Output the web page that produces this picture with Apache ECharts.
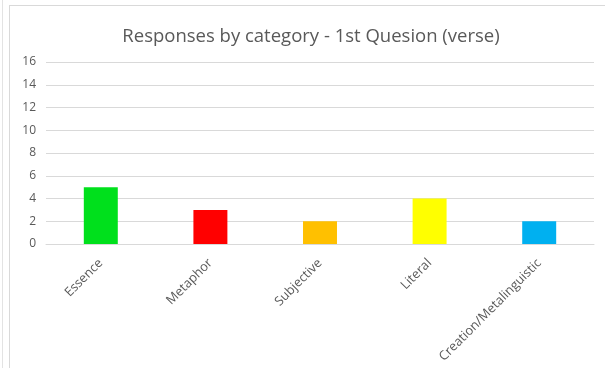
<!DOCTYPE html>
<html><head><meta charset="utf-8">
<script src="https://cdn.jsdelivr.net/npm/echarts@6/dist/echarts.min.js"></script>
<style>
html,body{margin:0;padding:0;background:#fff;}
#outer{position:absolute;left:2px;top:0;width:603px;height:368px;border-left:1px solid #e3e3e3;}
#frame{position:absolute;left:6px;top:5px;width:597px;height:363px;border-left:1px solid #d9d9d9;border-top:1px solid #d9d9d9;}
#main{position:absolute;left:0;top:0;width:605px;height:368px;}
</style></head>
<body>
<div id="outer"><div id="frame"></div></div>
<div id="main"></div>
<script>
const categories = ['Essence','Metaphor','Subjective','Literal','Creation/Metalinguistic'];
const values = [5,3,2,4,2];
const barColors = ['#00e01c','#ff0000','#ffc000','#ffff00','#00b0f0'];
const yTicks = [0,2,4,6,8,10,12,14,16];

const chart = echarts.init(document.getElementById('main'));
chart.setOption({
  backgroundColor:'transparent',
  animation:false,
  title:{text:'Responses by category - 1st Quesion (verse)',left:306,textAlign:'center',top:22,
    textStyle:{fontFamily:'Open Sans',fontWeight:'normal',fontSize:18.5,color:'#595959'}},
  grid:{left:46,right:11,top:62,bottom:124},
  xAxis:{type:'category',data:categories,
    axisLine:{lineStyle:{color:'#d9d9d9'}},axisTick:{show:false},
    axisLabel:{rotate:45,color:'#595959',fontFamily:'Open Sans',fontSize:12.8,margin:17,interval:0}},
  yAxis:{type:'value',min:yTicks[0],max:yTicks[yTicks.length-1],interval:2,
    axisLine:{show:false},axisTick:{show:false},
    splitLine:{lineStyle:{color:'#d9d9d9'}},
    axisLabel:{color:'#595959',fontFamily:'Open Sans',fontSize:12,margin:10}},
  series:[{type:'bar',barWidth:'31%',
    data:values.map((v,i)=>({value:v,itemStyle:{color:barColors[i]}}))}]
});
</script>
</body></html>
